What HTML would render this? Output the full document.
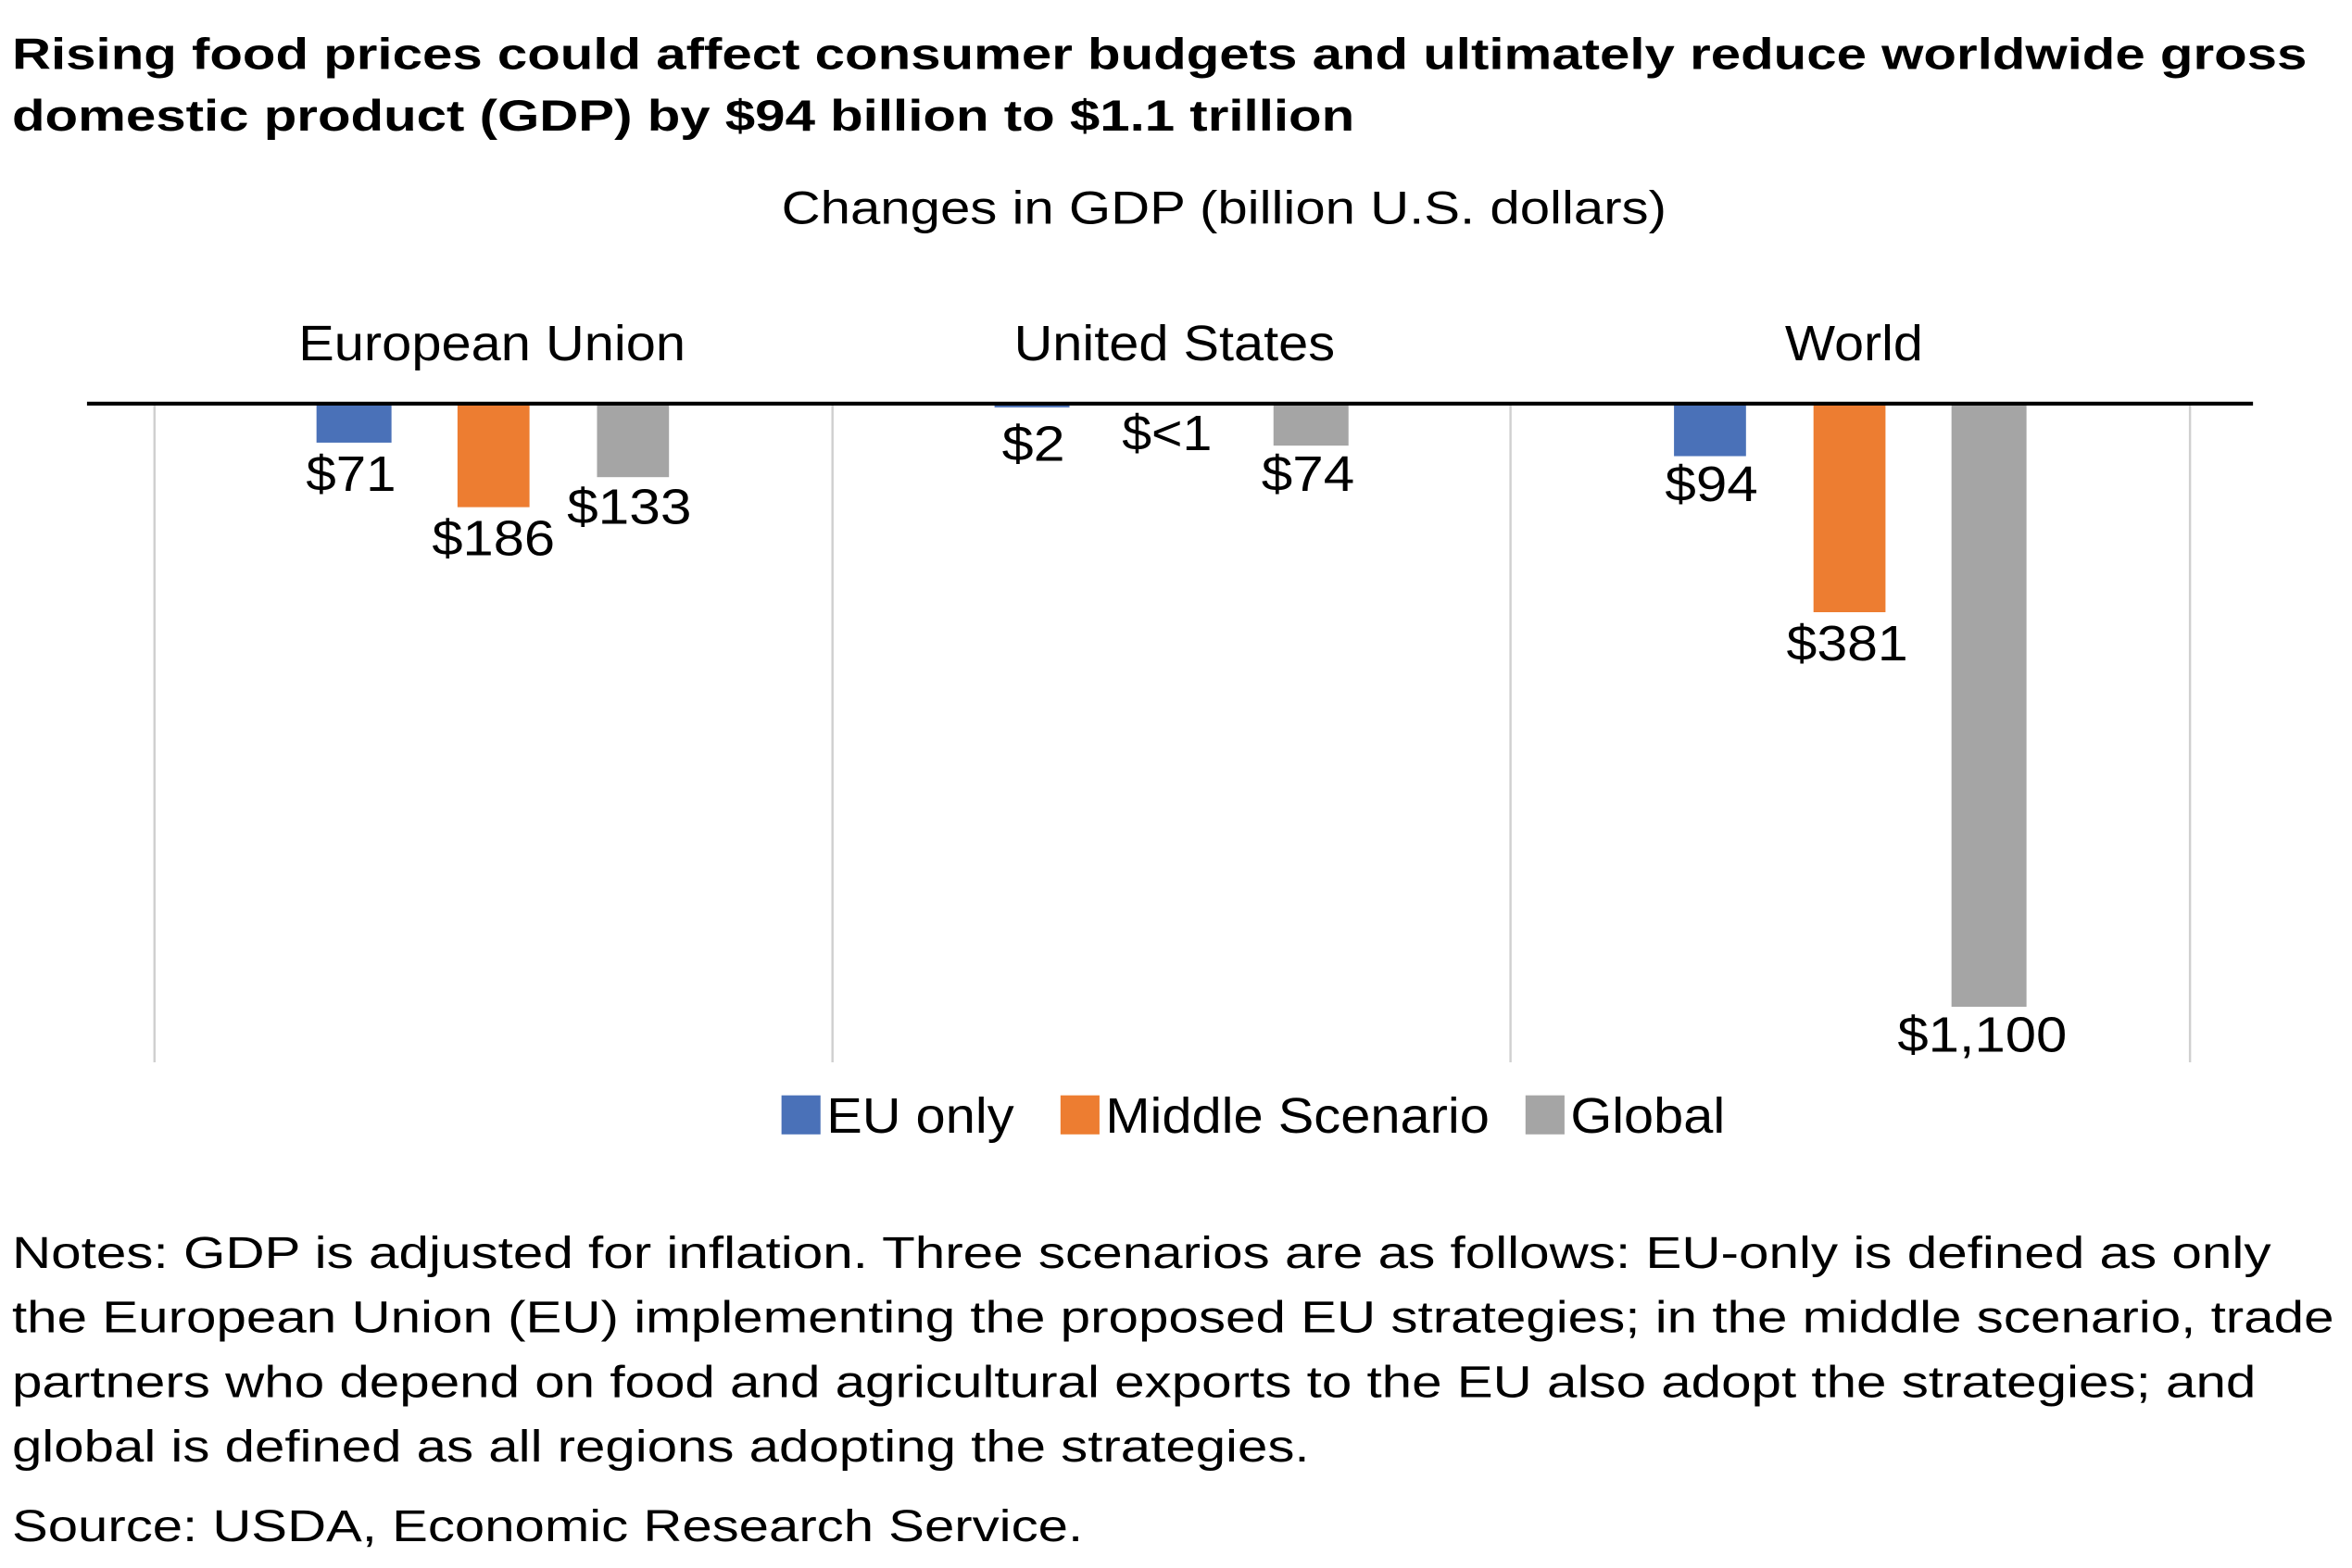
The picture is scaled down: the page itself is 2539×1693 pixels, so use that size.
<!DOCTYPE html>
<html><head><meta charset="utf-8"><style>html,body{margin:0;padding:0;background:#fff}svg{display:block}</style></head>
<body>
<svg width="2539" height="1693" viewBox="0 0 1568 1045" preserveAspectRatio="none" xmlns="http://www.w3.org/2000/svg" font-family="Liberation Sans, Arial, sans-serif">
<rect width="1568" height="1045" fill="#fff"/>
<text x="8" y="46" font-size="29" font-weight="bold" textLength="1530" lengthAdjust="spacingAndGlyphs">Rising food prices could affect consumer budgets and ultimately reduce worldwide gross</text>
<text x="8" y="87" font-size="29" font-weight="bold" textLength="895" lengthAdjust="spacingAndGlyphs">domestic product (GDP) by $94 billion to $1.1 trillion</text>
<text x="521" y="149" font-size="31" textLength="590" lengthAdjust="spacingAndGlyphs">Changes in GDP (billion U.S. dollars)</text>
<g font-size="33">
<text x="199" y="240" textLength="258" lengthAdjust="spacingAndGlyphs">European Union</text>
<text x="676" y="240" textLength="214" lengthAdjust="spacingAndGlyphs">United States</text>
<text x="1190" y="240" textLength="92" lengthAdjust="spacingAndGlyphs">World</text>
</g>
<g stroke="#d0d0d0" stroke-width="1.5">
<line x1="103" y1="269" x2="103" y2="708"/>
<line x1="555" y1="269" x2="555" y2="708"/>
<line x1="1007" y1="269" x2="1007" y2="708"/>
<line x1="1460" y1="269" x2="1460" y2="708"/>
</g>
<rect x="211" y="269" width="50" height="26" fill="#4a71b8"/>
<rect x="305" y="269" width="48" height="69" fill="#ed7d31"/>
<rect x="398" y="269" width="48" height="49" fill="#a5a5a5"/>
<rect x="663" y="269" width="50" height="2.5" fill="#4a71b8"/>
<rect x="849" y="269" width="50" height="28" fill="#a5a5a5"/>
<rect x="1116" y="269" width="48" height="35" fill="#4a71b8"/>
<rect x="1209" y="269" width="48" height="139" fill="#ed7d31"/>
<rect x="1301" y="269" width="50" height="402" fill="#a5a5a5"/>
<line x1="58" y1="269" x2="1502" y2="269" stroke="#000" stroke-width="2.5"/>
<g font-size="33">
<text x="204" y="327" textLength="60" lengthAdjust="spacingAndGlyphs">$71</text>
<text x="288" y="370" textLength="82" lengthAdjust="spacingAndGlyphs">$186</text>
<text x="378" y="349" textLength="83" lengthAdjust="spacingAndGlyphs">$133</text>
<text x="668" y="307" textLength="42" lengthAdjust="spacingAndGlyphs">$2</text>
<text x="748" y="300" textLength="60" lengthAdjust="spacingAndGlyphs">$&lt;1</text>
<text x="841" y="327" textLength="62" lengthAdjust="spacingAndGlyphs">$74</text>
<text x="1110" y="334" textLength="62" lengthAdjust="spacingAndGlyphs">$94</text>
<text x="1191" y="440" textLength="81" lengthAdjust="spacingAndGlyphs">$381</text>
<text x="1265" y="701" textLength="113" lengthAdjust="spacingAndGlyphs">$1,100</text>
</g>
<rect x="521" y="730" width="26" height="26" fill="#4a71b8"/>
<text x="551" y="755" font-size="33" textLength="125" lengthAdjust="spacingAndGlyphs">EU only</text>
<rect x="707" y="730" width="26" height="26" fill="#ed7d31"/>
<text x="737" y="755" font-size="33" textLength="256" lengthAdjust="spacingAndGlyphs">Middle Scenario</text>
<rect x="1017" y="730" width="26" height="26" fill="#a5a5a5"/>
<text x="1047" y="755" font-size="33" textLength="103" lengthAdjust="spacingAndGlyphs">Global</text>
<g font-size="30">
<text x="8" y="845" textLength="1506" lengthAdjust="spacingAndGlyphs">Notes: GDP is adjusted for inflation. Three scenarios are as follows: EU-only is defined as only</text>
<text x="8" y="888" textLength="1548" lengthAdjust="spacingAndGlyphs">the European Union (EU) implementing the proposed EU strategies; in the middle scenario, trade</text>
<text x="8" y="931" textLength="1496" lengthAdjust="spacingAndGlyphs">partners who depend on food and agricultural exports to the EU also adopt the strategies; and</text>
<text x="8" y="974" textLength="865" lengthAdjust="spacingAndGlyphs">global is defined as all regions adopting the strategies.</text>
<text x="8" y="1027" textLength="714" lengthAdjust="spacingAndGlyphs">Source: USDA, Economic Research Service.</text>
</g>
</svg>
</body></html>
